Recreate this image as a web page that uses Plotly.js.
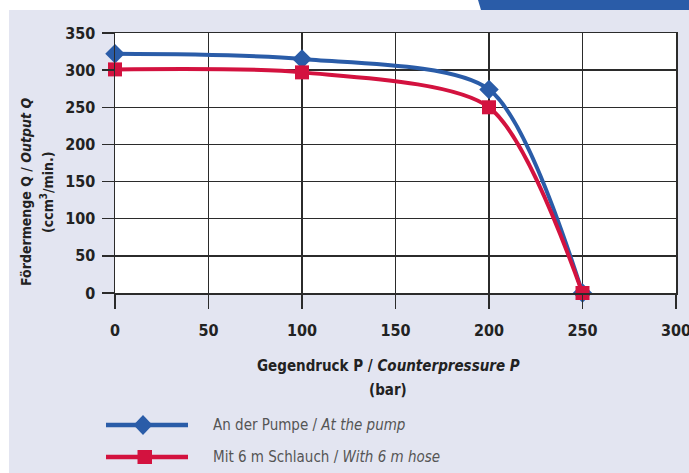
<!DOCTYPE html>
<html>
<head>
<meta charset="utf-8">
<script src="https://cdn.plot.ly/plotly-3.0.1.min.js"></script>
<style>html,body{margin:0;padding:0;background:#fff;}#chart{width:689px;height:473px;}</style>
</head>
<body>
<div id="chart"></div>
<script>
// Data
const pressure = [0, 100, 200, 250];
const outputPump = [322, 315, 274, 0];
const outputHose = [301, 297, 250, 0];
const xTicks = [0, 50, 100, 150, 200, 250, 300];
const yTicks = [0, 50, 100, 150, 200, 250, 300, 350];
const seriesNames = ['An der Pumpe / <i>At the pump</i>', 'Mit 6 m Schlauch / <i>With 6 m hose</i>'];

const W = 689, H = 473, L = 115, R = 13, T = 33, B = 180;
const PW = W - L - R, PH = H - T - B;
const px = x => (x - L) / PW;
const py = y => (H - B - y) / PH;

const FONT = 'Liberation Sans Narrow, Arial Narrow, DejaVu Sans Condensed, Roboto Condensed, Liberation Sans, sans-serif';
const BLUE = '#2a5ca8', RED = '#d3123f', GRID = '#2b2b2b', BG = '#e3e5f1';

const traces = [
  {x: pressure, y: outputPump, name: seriesNames[0], mode: 'lines+markers', cliponaxis: false,
   line: {color: BLUE, width: 4, shape: 'spline', smoothing: 0.75},
   marker: {symbol: 'diamond', size: 15, color: BLUE}},
  {x: pressure, y: outputHose, name: seriesNames[1], mode: 'lines+markers', cliponaxis: false,
   line: {color: RED, width: 4, shape: 'spline', smoothing: 0.75},
   marker: {symbol: 'square', size: 14, color: RED}}
];

// legend drawn as shapes + annotations
const legY = [425, 457];
const colors = [BLUE, RED];
const shapes = [
  {type: 'rect', xref: 'paper', yref: 'paper', x0: px(0), x1: px(W), y0: py(0), y1: py(10), fillcolor: '#ffffff', line: {width: 0}, layer: 'below'},
  {type: 'rect', xref: 'paper', yref: 'paper', x0: px(0), x1: px(9), y0: py(0), y1: py(H), fillcolor: '#ffffff', line: {width: 0}, layer: 'below'},
  {type: 'path', xref: 'paper', yref: 'paper', path: `M${px(478)},${py(0)} L${px(W)},${py(0)} L${px(W)},${py(10)} L${px(481)},${py(10)} Z`, fillcolor: BLUE, line: {width: 0}}
];
legY.forEach((y, i) => {
  shapes.push({type: 'line', xref: 'paper', yref: 'paper', x0: px(106), x1: px(188), y0: py(y), y1: py(y), line: {color: colors[i], width: 4.5}});
});
shapes.push({type: 'path', xref: 'paper', yref: 'paper',
  path: `M${px(143)},${py(legY[0]-10)} L${px(152.5)},${py(legY[0])} L${px(143)},${py(legY[0]+10)} L${px(133.5)},${py(legY[0])} Z`,
  fillcolor: BLUE, line: {width: 0}});
shapes.push({type: 'rect', xref: 'paper', yref: 'paper', x0: px(137.5), x1: px(152), y0: py(legY[1]-7), y1: py(legY[1]+7), fillcolor: RED, line: {width: 0}});

const annotations = [
  {text: '<b>Gegendruck P / <i>Counterpressure P</i></b>', x: px(388), y: py(366), xref: 'paper', yref: 'paper', showarrow: false, xanchor: 'center', yanchor: 'middle', font: {family: FONT, size: 15, color: '#222'}},
  {text: '<b>(bar)</b>', x: px(388), y: py(390), xref: 'paper', yref: 'paper', showarrow: false, xanchor: 'center', yanchor: 'middle', font: {family: FONT, size: 15, color: '#222'}},
  {text: '<b>Fördermenge Q / <i>Output Q</i></b>', x: px(26), y: py(192), xref: 'paper', yref: 'paper', showarrow: false, textangle: -90, xanchor: 'center', yanchor: 'middle', font: {family: FONT, size: 14, color: '#222'}},
  {text: '<b>(ccm<sup>3</sup>/min.)</b>', x: px(47), y: py(192), xref: 'paper', yref: 'paper', showarrow: false, textangle: -90, xanchor: 'center', yanchor: 'middle', font: {family: FONT, size: 14, color: '#222'}}
];
legY.forEach((y, i) => {
  annotations.push({text: seriesNames[i], x: px(211), y: py(y), xref: 'paper', yref: 'paper', showarrow: false, xanchor: 'left', yanchor: 'middle', font: {family: FONT, size: 15, color: '#555'}});
});

const layout = {
  width: W, height: H,
  margin: {l: L, r: R, t: T, b: B, pad: 0},
  paper_bgcolor: BG, plot_bgcolor: '#ffffff',
  showlegend: false,
  font: {family: FONT, color: '#222'},
  xaxis: {range: [0, 300], tickvals: xTicks, ticktext: xTicks.map(String), showgrid: true, gridcolor: GRID, gridwidth: 1.5,
    zeroline: false, showline: true, mirror: true, linecolor: GRID, linewidth: 1.5,
    ticks: 'outside', ticklen: 14, tickwidth: 1.5, tickcolor: GRID, ticklabelstandoff: 8, ticklabeloverflow: 'allow',
    tickfont: {family: FONT, size: 16, color: '#222', weight: 'bold'}, fixedrange: true},
  yaxis: {range: [0, 350], tickvals: yTicks, ticktext: yTicks.map(String), showgrid: true, gridcolor: GRID, gridwidth: 1.5,
    zeroline: false, showline: true, mirror: true, linecolor: GRID, linewidth: 1.5,
    ticks: 'outside', ticklen: 12, tickwidth: 1.5, tickcolor: GRID, ticklabelstandoff: 3, ticklabeloverflow: 'allow',
    tickfont: {family: FONT, size: 16, color: '#222', weight: 'bold'}, fixedrange: true},
  shapes: shapes,
  annotations: annotations
};

Plotly.newPlot('chart', traces, layout, {displayModeBar: false, staticPlot: true});
</script>
</body>
</html>
